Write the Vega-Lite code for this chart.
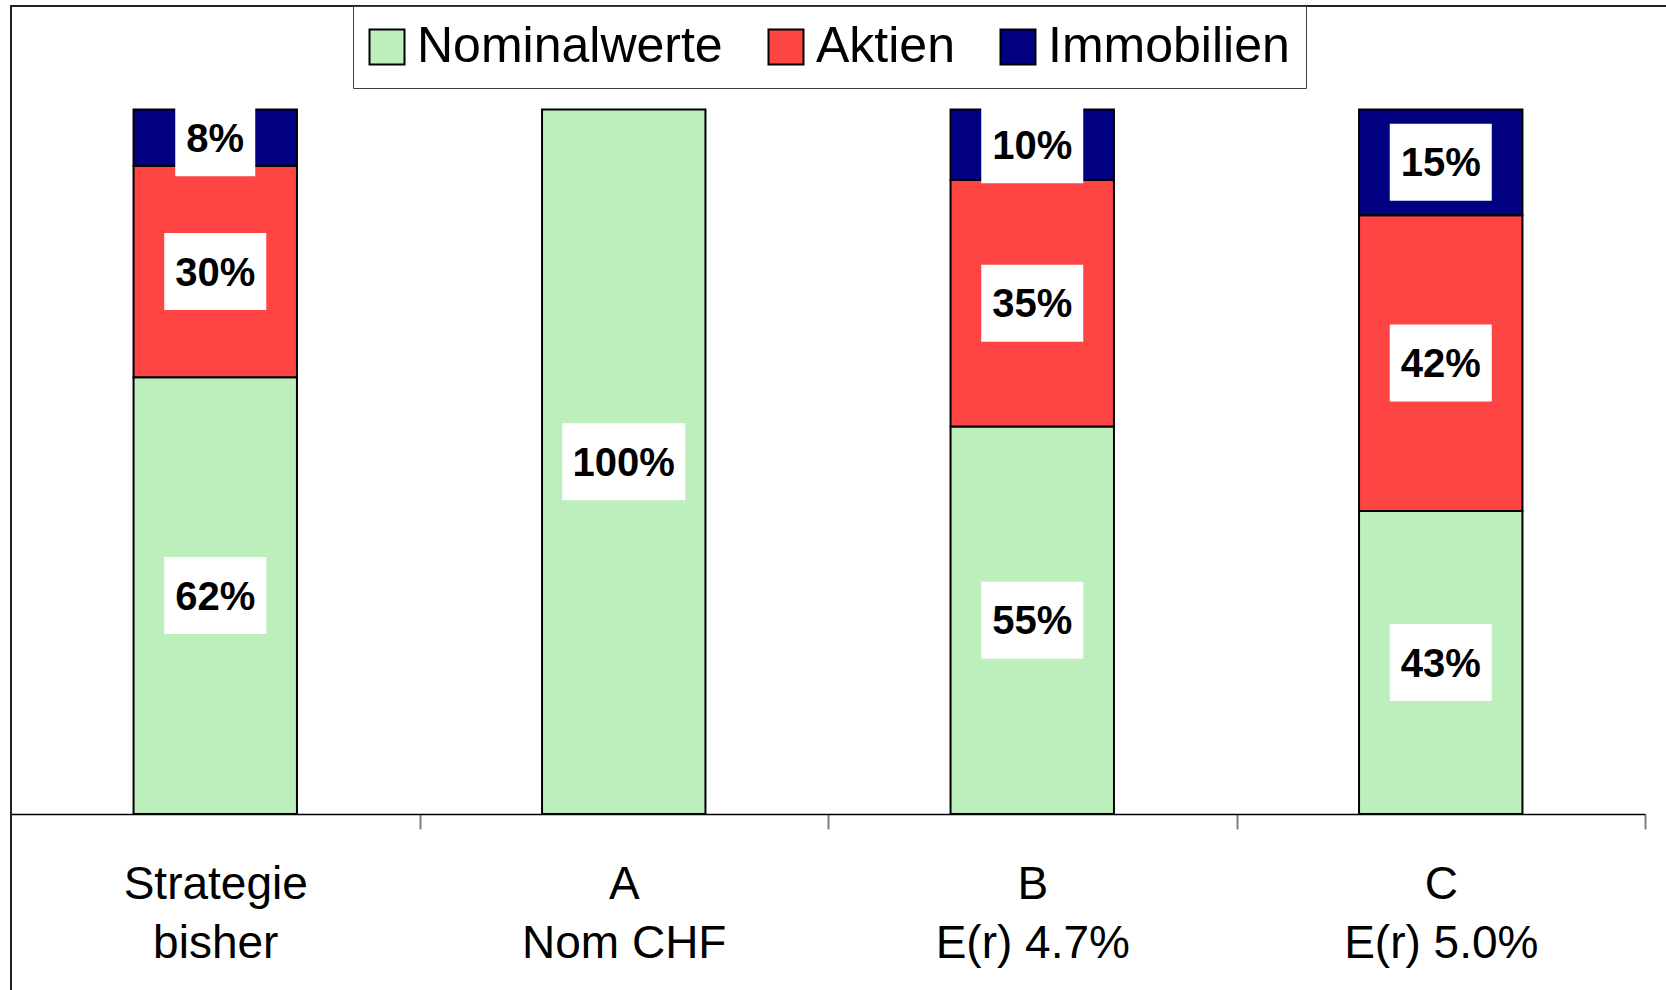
{
  "$schema": "https://vega.github.io/schema/vega-lite/v6.json",
  "width": 1700,
  "height": 1000,
  "autosize": {"type": "none"},
  "padding": {"left": 11, "top": 6, "right": 0, "bottom": 0},
  "background": "white",
  "config": {
    "view": {"stroke": "#222222", "strokeWidth": 2},
    "font": "Liberation Sans"
  },
  "data": {
    "values": [
      {"cat": "Strategie\nbisher", "series": "Nominalwerte", "k": 1, "v": 0.62},
      {"cat": "Strategie\nbisher", "series": "Aktien", "k": 2, "v": 0.30},
      {"cat": "Strategie\nbisher", "series": "Immobilien", "k": 3, "v": 0.08},
      {"cat": "A\nNom CHF", "series": "Nominalwerte", "k": 1, "v": 1.0},
      {"cat": "B\nE(r) 4.7%", "series": "Nominalwerte", "k": 1, "v": 0.55},
      {"cat": "B\nE(r) 4.7%", "series": "Aktien", "k": 2, "v": 0.35},
      {"cat": "B\nE(r) 4.7%", "series": "Immobilien", "k": 3, "v": 0.10},
      {"cat": "C\nE(r) 5.0%", "series": "Nominalwerte", "k": 1, "v": 0.43},
      {"cat": "C\nE(r) 5.0%", "series": "Aktien", "k": 2, "v": 0.42},
      {"cat": "C\nE(r) 5.0%", "series": "Immobilien", "k": 3, "v": 0.15}
    ]
  },
  "layer": [
    {
      "mark": {"type": "bar", "stroke": "black", "strokeWidth": 2},
      "encoding": {
        "x": {
          "field": "cat",
          "type": "nominal",
          "sort": null,
          "scale": {
            "domain": ["Strategie\nbisher", "A\nNom CHF", "B\nE(r) 4.7%", "C\nE(r) 5.0%"],
            "range": [0, 1634],
            "paddingInner": 0.6,
            "paddingOuter": 0.3
          },
          "axis": {
            "orient": "bottom",
            "offset": -192,
            "title": null,
            "domainColor": "black",
            "domainWidth": 1.5,
            "tickColor": "#808080",
            "tickWidth": 2,
            "tickSize": 15,
            "tickOffset": 204.25,
            "labelOffset": -204.25,
            "labelFontSize": 46,
            "labelFont": "Liberation Sans",
            "labelColor": "black",
            "labelPadding": 33,
            "labelLineHeight": 59,
            "labelBaseline": "top",
            "labelAngle": 0,
            "labelLimit": 0,
            "labelExpr": "split(datum.label, '\\n')"
          }
        },
        "y": {
          "field": "v",
          "type": "quantitative",
          "stack": "zero",
          "scale": {"domain": [0, 1], "range": [808, 103.5]},
          "axis": null
        },
        "color": {
          "field": "series",
          "type": "nominal",
          "scale": {
            "domain": ["Nominalwerte", "Aktien", "Immobilien"],
            "range": ["#bdefbd", "#ff4444", "#000080"]
          },
          "legend": {
            "orient": "none",
            "legendX": 342,
            "legendY": 0,
            "direction": "horizontal",
            "title": null,
            "strokeColor": "#404040",
            "fillColor": "white",
            "padding": 16,
            "symbolType": "square",
            "symbolSize": 1225,
            "symbolOffset": -7,
            "symbolStrokeColor": "black",
            "symbolStrokeWidth": 2,
            "symbolOpacity": 1,
            "labelFontSize": 50,
            "labelFont": "Liberation Sans",
            "labelColor": "black",
            "labelOffset": 5,
            "columnPadding": 41,
            "labelLimit": 0
          }
        },
        "order": {"field": "k", "type": "quantitative"}
      }
    },
    {
      "transform": [
        {"stack": "v", "groupby": ["cat"], "sort": [{"field": "k", "order": "ascending"}], "as": ["lo", "hi"]},
        {"fold": ["lo", "hi"], "as": ["edge", "pos"]},
        {"aggregate": [{"op": "mean", "field": "pos", "as": "mid"}], "groupby": ["cat", "series", "v"]}
      ],
      "layer": [
        {
          "mark": {"type": "point", "filled": true, "fill": "white", "opacity": 1, "strokeWidth": 0, "size": 10000},
          "encoding": {
            "x": {"field": "cat", "type": "nominal", "sort": null},
            "y": {"field": "mid", "type": "quantitative"},
            "shape": {
              "condition": [
                {"test": "datum.v >= 1", "value": "M-1.23,-0.77L1.23,-0.77L1.23,0.77L-1.23,0.77Z"},
                {"test": "datum.v < 0.095", "value": "M-0.8,-0.77L0.8,-0.77L0.8,0.77L-0.8,0.77Z"}
              ],
              "value": "M-1.02,-0.77L1.02,-0.77L1.02,0.77L-1.02,0.77Z"
            }
          }
        },
        {
          "mark": {"type": "text", "fontSize": 40, "fontWeight": "bold", "font": "Liberation Sans", "color": "black", "baseline": "middle", "align": "center", "dy": 2},
          "encoding": {
            "x": {"field": "cat", "type": "nominal", "sort": null},
            "y": {"field": "mid", "type": "quantitative"},
            "text": {"field": "v", "type": "quantitative", "format": ".0%"}
          }
        }
      ]
    }
  ]
}
